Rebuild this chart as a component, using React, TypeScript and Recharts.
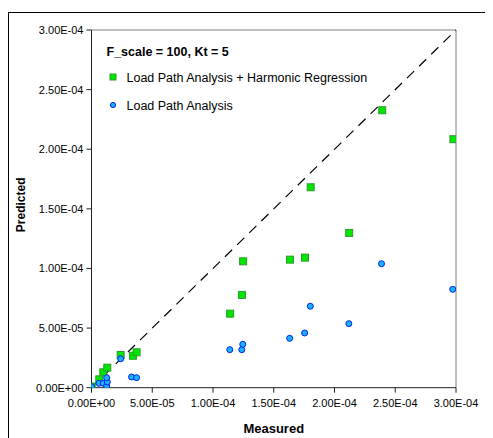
import React from 'react';
import { ScatterChart, Scatter, XAxis, YAxis, ReferenceLine } from 'recharts';

// Load Path Analysis + Harmonic Regression
const measuredHarmonic = [
  0.002e-4, 0.064e-4, 0.097e-4, 0.13e-4, 0.24e-4, 0.341e-4, 0.371e-4,
  1.141e-4, 1.239e-4, 1.248e-4, 1.634e-4, 1.757e-4, 1.804e-4, 2.121e-4,
  2.393e-4, 2.979e-4,
];
const predictedHarmonic = [
  0.01e-4, 0.07e-4, 0.129e-4, 0.168e-4, 0.274e-4, 0.268e-4, 0.297e-4,
  0.621e-4, 0.778e-4, 1.06e-4, 1.074e-4, 1.091e-4, 1.681e-4, 1.298e-4,
  2.327e-4, 2.084e-4,
];

// Load Path Analysis
const measuredLoadPath = [
  0.0, 0.062e-4, 0.097e-4, 0.125e-4, 0.13e-4, 0.125e-4, 0.24e-4, 0.33e-4,
  0.371e-4, 1.138e-4, 1.237e-4, 1.245e-4, 1.631e-4, 1.754e-4, 1.801e-4,
  2.118e-4, 2.387e-4, 2.973e-4,
];
const predictedLoadPath = [
  0.008e-4, 0.037e-4, 0.037e-4, 0.014e-4, 0.048e-4, 0.084e-4, 0.243e-4,
  0.09e-4, 0.084e-4, 0.319e-4, 0.319e-4, 0.364e-4, 0.414e-4, 0.459e-4,
  0.683e-4, 0.537e-4, 1.04e-4, 0.825e-4,
];

const axisTicks = [0, 5e-5, 1e-4, 1.5e-4, 2e-4, 2.5e-4, 3e-4];
const axisMax = 3e-4;

const chartTitle = 'F_scale = 100, Kt = 5';
const seriesNames = ['Load Path Analysis + Harmonic Regression', 'Load Path Analysis'];

const harmonicData = measuredHarmonic.map((x, i) => ({ x, y: predictedHarmonic[i] }));
const loadPathData = measuredLoadPath.map((x, i) => ({ x, y: predictedLoadPath[i] }));

const GREEN_FILL = '#00e600';
const GREEN_EDGE = '#2f9a2f';
const BLUE_FILL = '#1ab2ff';
const BLUE_EDGE = '#0022ee';

// Spreadsheet-style scientific notation: 1.50E-04
const sci = (v: number) => {
  const [m, e] = v.toExponential(2).split('e');
  const n = Number(e);
  return `${m}E${n < 0 ? '-' : '+'}${String(Math.abs(n)).padStart(2, '0')}`;
};

const Square = (props: any) => {
  const { cx, cy } = props;
  if (cx == null || cy == null) return null;
  return <rect x={cx - 3.5} y={cy - 3.5} width={7} height={7} fill={GREEN_FILL} stroke={GREEN_EDGE} strokeWidth={1} />;
};

const Dot = (props: any) => {
  const { cx, cy } = props;
  if (cx == null || cy == null) return null;
  return <circle cx={cx} cy={cy} r={3} fill={BLUE_FILL} stroke={BLUE_EDGE} strokeWidth={1} />;
};

const tickStyle = { fill: '#000', fontSize: 11 };

export default function App() {
  return (
    <div
      style={{
        position: 'relative',
        top: 4,
        width: 482,
        height: 440,
        border: '1px solid #000',
        fontFamily: '"Liberation Sans", Arial, sans-serif',
        background: '#fff',
      }}
    >
      <ScatterChart width={482} height={430} margin={{ top: 17, right: 35, left: 0, bottom: 0 }}>
        <XAxis
          type="number"
          dataKey="x"
          domain={[0, axisMax]}
          ticks={axisTicks}
          tickFormatter={sci}
          allowDataOverflow
          height={55.3}
          tick={tickStyle}
          tickSize={5}
          tickMargin={6}
          axisLine={{ stroke: '#222' }}
          tickLine={{ stroke: '#222' }}
          label={(p: any) => {
            const vb = p.viewBox;
            return (
              <text x={vb.x + vb.width / 2} y={419.5} textAnchor="middle" fontSize={13} fontWeight="bold" fill="#000">
                Measured
              </text>
            );
          }}
        />
        <YAxis
          type="number"
          dataKey="y"
          domain={[0, axisMax]}
          ticks={axisTicks}
          tickFormatter={sci}
          allowDataOverflow
          width={82.5}
          tick={tickStyle}
          tickSize={5}
          tickMargin={3}
          axisLine={{ stroke: '#222' }}
          tickLine={{ stroke: '#222' }}
          label={(p: any) => {
            const vb = p.viewBox;
            const cy = vb.y + vb.height / 2 - 4;
            return (
              <text
                x={11.7}
                y={cy}
                transform={`rotate(-90 11.7 ${cy})`}
                textAnchor="middle"
                dominantBaseline="central"
                fontSize={12}
                fontWeight="bold"
                fill="#000"
              >
                Predicted
              </text>
            );
          }}
        />
        <ReferenceLine y={axisMax} stroke="#808080" ifOverflow="visible" />
        <ReferenceLine x={axisMax} stroke="#808080" ifOverflow="visible" />
        <ReferenceLine
          segment={[{ x: 0, y: 0 }, { x: axisMax, y: axisMax }]}
          stroke="#000"
          strokeDasharray="10 7"
          strokeWidth={1.2}
          ifOverflow="visible"
        />
        <Scatter name={seriesNames[0]} data={harmonicData} shape={Square} isAnimationActive={false} />
        <Scatter name={seriesNames[1]} data={loadPathData} shape={Dot} isAnimationActive={false} />
      </ScatterChart>

      {/* Title and legend block inside the plot area */}
      <div style={{ position: 'absolute', left: 98, top: 33, color: '#000', lineHeight: 1 }}>
        <div style={{ position: 'absolute', left: -0.5, top: 0, fontSize: 12.5, fontWeight: 'bold', whiteSpace: 'nowrap' }}>
          {chartTitle}
        </div>
        <div style={{ position: 'absolute', left: 0, top: 25, display: 'flex', alignItems: 'center', whiteSpace: 'nowrap' }}>
          <svg width={14} height={14}>
            <rect x={3} y={3} width={6} height={6} fill={GREEN_FILL} stroke={GREEN_EDGE} strokeWidth={1} />
          </svg>
          <span style={{ marginLeft: 5.5, fontSize: 12.5 }}>{seriesNames[0]}</span>
        </div>
        <div style={{ position: 'absolute', left: 0, top: 53, display: 'flex', alignItems: 'center', whiteSpace: 'nowrap' }}>
          <svg width={14} height={14}>
            <circle cx={6} cy={6} r={2.6} fill={BLUE_FILL} stroke={BLUE_EDGE} strokeWidth={1} />
          </svg>
          <span style={{ marginLeft: 5.5, fontSize: 12.5 }}>{seriesNames[1]}</span>
        </div>
      </div>
    </div>
  );
}
